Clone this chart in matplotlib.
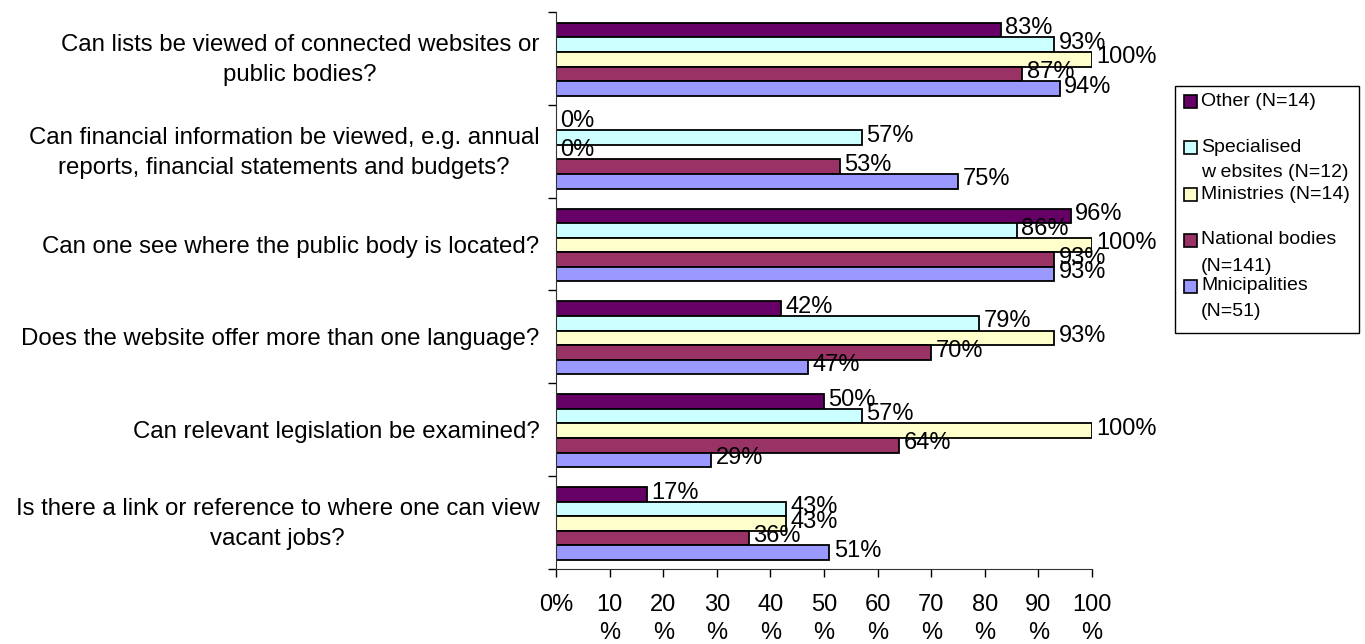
import numpy as np
import matplotlib.pyplot as plt
from matplotlib.patches import Rectangle

plt.rcParams['font.family'] = ['Liberation Sans', 'DejaVu Sans']

questions = [
    "Can lists be viewed of connected websites or\npublic bodies?",
    "Can financial information be viewed, e.g. annual\nreports, financial statements and budgets?",
    "Can one see where the public body is located?",
    "Does the website offer more than one language?",
    "Can relevant legislation be examined?",
    "Is there a link or reference to where one can view\nvacant jobs?",
]

series_names = ["Other (N=14)", "Specialised\nw ebsites (N=12)", "Ministries (N=14)",
                "National bodies\n(N=141)", "Mnicipalities\n(N=51)"]
colors = ["#660066", "#CCFFFF", "#FFFFCC", "#993366", "#9999FF"]

other = [83, 0, 96, 42, 50, 17]
specialised = [93, 57, 86, 79, 57, 43]
ministries = [100, 0, 100, 93, 100, 43]
national = [87, 53, 93, 70, 64, 36]
municipalities = [94, 75, 93, 47, 29, 51]
values = [other, specialised, ministries, national, municipalities]

xticks = np.arange(0, 101, 10)
xlabels = ["0%"] + [f"{v}\n%" for v in xticks[1:]]

W, H = 1365, 644
fig = plt.figure(figsize=(W / 100, H / 100), dpi=100)
ax = fig.add_axes([556 / W, 1 - 569 / H, (1092 - 556) / W, (569 - 12) / H])

fs = 17
bar_h = 0.157
y = np.arange(len(questions))
for j, (vals, c) in enumerate(zip(values, colors)):
    yy = y + (j - 2) * bar_h + 0.01
    ax.barh(yy, vals, height=bar_h, color=c, edgecolor="black", linewidth=1.3)
    for yi, v in zip(yy, vals):
        ax.text(v + 0.8, yi - 0.02, f"{v}%", va="center", ha="left", fontsize=fs)

ax.set_xlim(0, 100)
ax.set_ylim(len(questions) - 0.5, -0.5)

ax.set_xticks(xticks, labels=xlabels)
for t in ax.get_xticklabels():
    t.set_linespacing(1.35)
ax.tick_params(axis="x", length=6, width=1, pad=12, labelsize=fs)

# question labels sit on invisible minor ticks; two-line ones nudged up a bit
label_pos = [i - 0.055 if "\n" in q else i for i, q in enumerate(questions)]
ax.set_yticks(np.arange(-0.5, len(questions)), labels=[])
ax.set_yticks(label_pos, labels=questions, minor=True)
for t in ax.get_yticklabels(minor=True):
    t.set_multialignment("center")
    t.set_linespacing(1.5)
ax.tick_params(axis="y", which="major", length=6, width=1)
ax.tick_params(axis="y", which="minor", length=0, pad=12, labelsize=17.3)

for s in ["top", "right"]:
    ax.spines[s].set_visible(False)
for s in ["left", "bottom"]:
    ax.spines[s].set_color("#333333")

# legend box, drawn in figure pixels
def fx(px):
    return px / W

def fy(py):
    return 1 - py / H

fig.patches.append(Rectangle((fx(1175), fy(333)), fx(1359) - fx(1175), fy(86) - fy(333),
                             transform=fig.transFigure, facecolor="white",
                             edgecolor="black", linewidth=1))
first_line = [101, 147, 194, 240, 286]
for name, c, ly in zip(series_names, colors, first_line):
    fig.patches.append(Rectangle((fx(1184), fy(ly + 7)), fx(13), 13 / H,
                                 transform=fig.transFigure, facecolor=c,
                                 edgecolor="black", linewidth=1.2))
    for k, line in enumerate(name.split("\n")):
        fig.text(fx(1201), fy(ly + k * 26), line, fontsize=14, va="center", ha="left")

fig.savefig("out.png", dpi=100)
